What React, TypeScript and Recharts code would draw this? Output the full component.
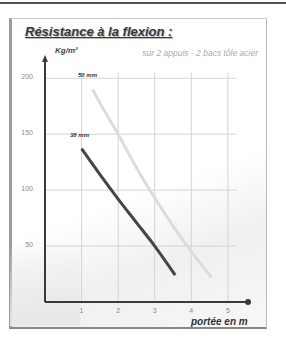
import React from "react";
import { LineChart, Line, XAxis, YAxis, ReferenceLine, ReferenceDot } from "recharts";

const span50x = [1.3, 1.5, 2, 2.5, 3, 3.5, 4, 4.55];
const res50 = [190, 178, 150, 120, 93, 68, 45, 22];
const span38x = [1, 1.5, 2, 2.5, 3, 3.56];
const res38 = [137, 114, 92, 71, 50, 24];
const yTicks = [50, 100, 150, 200];
const xTicks = [1, 2, 3, 4, 5];

const data50 = span50x.map((x, i) => ({ x, v50: res50[i] }));
const data38 = span38x.map((x, i) => ({ x, v38: res38[i] }));

const gridColor = "#d4d4d4";
const axisColor = "#3a3a3a";

const Arrow = (props: any) => {
  const { cx, cy } = props;
  return <path d={`M${cx - 3},${cy + 5} L${cx},${cy - 2} L${cx + 3},${cy + 5} Z`} fill={axisColor} />;
};
const EndDot = (props: any) => {
  const { cx, cy } = props;
  return <circle cx={cx} cy={cy} r={3} fill={axisColor} />;
};

export default function App() {
  return (
    <div style={{ position: "fixed", left: 0, top: 0, width: 286, height: 338, background: "#fff", fontFamily: "'Liberation Sans', Arial, sans-serif", overflow: "hidden" }}>
      <div style={{ position: "absolute", left: 0, top: 2, width: 286, height: 2, background: "#555" }} />
      <div style={{ position: "absolute", left: 9, top: 18, width: 254, height: 308, borderLeft: "3px solid #9a9a9a", borderRight: "1px solid #bbb", borderTop: "1px solid #ccc", borderBottom: "2px solid #888", background: "linear-gradient(160deg, #ffffff 0%, #ffffff 55%, #f0f0f0 75%, #f7f7f7 100%)" }} />
      <div style={{ position: "absolute", left: 10, top: 240, width: 70, height: 86, background: "linear-gradient(180deg, rgba(235,235,235,0) 0%, rgba(232,232,232,1) 100%)" }} />
      <div style={{ position: "absolute", left: 0, top: 0 }}>
        <LineChart width={286} height={338} margin={{ top: 57, right: 38, bottom: 16, left: 25 }}>
          <XAxis type="number" dataKey="x" domain={[0, 5.55]} ticks={xTicks} allowDataOverflow
            axisLine={{ stroke: axisColor, strokeWidth: 2 }} tickLine={false}
            tick={{ fontSize: 7, fill: "#8a8a8a" }} tickMargin={0} height={20} />
          <YAxis type="number" domain={[0, 219]} ticks={yTicks} allowDataOverflow width={20}
            axisLine={{ stroke: axisColor, strokeWidth: 2 }} tickLine={false}
            tick={{ fontSize: 7, fill: "#8a8a8a", dy: -2 }} tickMargin={6} />
          {yTicks.map((t) => (
            <ReferenceLine key={"h" + t} segment={[{ x: 0, y: t }, { x: 5.25, y: t }]} stroke={gridColor} strokeWidth={1} ifOverflow="visible" />
          ))}
          {xTicks.map((t) => (
            <ReferenceLine key={"v" + t} segment={[{ x: t, y: 0 }, { x: t, y: 205 }]} stroke={gridColor} strokeWidth={1} ifOverflow="visible" />
          ))}
          <Line data={data50} type="monotone" dataKey="v50" stroke="#dcdcdc" strokeWidth={3} dot={false} isAnimationActive={false} />
          <Line data={data38} type="monotone" dataKey="v38" stroke="#454545" strokeWidth={3} dot={false} isAnimationActive={false} />
          <ReferenceDot x={0} y={219} ifOverflow="visible" shape={<Arrow />} />
          <ReferenceDot x={5.55} y={0} ifOverflow="visible" shape={<EndDot />} />
        </LineChart>
      </div>
      <div style={{ position: "absolute", left: 25, top: 24, fontSize: 13, fontWeight: "bold", fontStyle: "italic", color: "#3a3a3a", textDecoration: "underline", textShadow: "1px 1px 0 #bbb", whiteSpace: "nowrap" }}>Résistance à la flexion :</div>
      <div style={{ position: "absolute", left: 55, top: 46, fontSize: 8, fontWeight: "bold", fontStyle: "italic", color: "#444", whiteSpace: "nowrap" }}>Kg/m²</div>
      <div style={{ position: "absolute", right: 28, top: 48, fontSize: 8.5, fontStyle: "italic", color: "#aaa", whiteSpace: "nowrap" }}>sur 2 appuis - 2 bacs tôle acier</div>
      <div style={{ position: "absolute", left: 78, top: 72, fontSize: 6, fontWeight: "bold", fontStyle: "italic", color: "#333", whiteSpace: "nowrap" }}>50 mm</div>
      <div style={{ position: "absolute", left: 70, top: 132, fontSize: 6, fontWeight: "bold", fontStyle: "italic", color: "#333", whiteSpace: "nowrap" }}>38 mm</div>
      <div style={{ position: "absolute", left: 191, top: 316, fontSize: 10, fontWeight: "bold", fontStyle: "italic", color: "#333", whiteSpace: "nowrap" }}>portée en m</div>
    </div>
  );
}
